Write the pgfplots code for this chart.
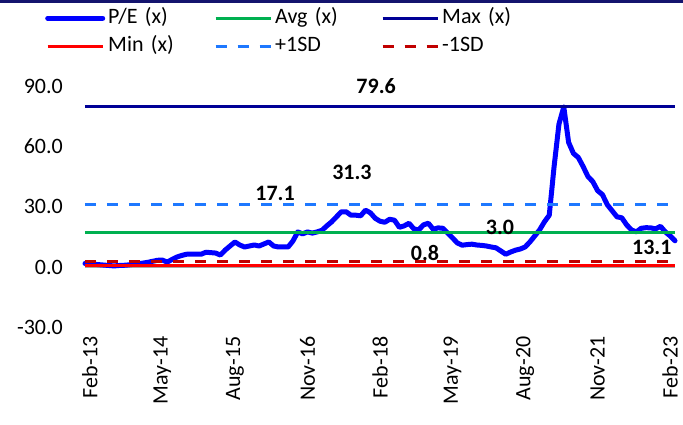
\documentclass[border=0pt]{standalone}
\usepackage{fontspec}
\setmainfont{Carlito}
\usepackage{pgfplots}
\pgfplotsset{compat=1.18}

\definecolor{peblue}{RGB}{0,0,255}
\definecolor{avggreen}{RGB}{0,176,80}
\definecolor{maxnavy}{RGB}{0,0,150}
\definecolor{minred}{RGB}{255,0,0}
\definecolor{sdplus}{RGB}{30,120,255}
\definecolor{sdminus}{RGB}{192,0,0}
\definecolor{topnavy}{RGB}{20,20,110}

\newcommand{\chartfont}{\fontsize{22}{26}\selectfont}

% month index: 0 = Jan-13, 1 = Feb-13, ..., 122 = Mar-23
\begin{document}
\begin{tikzpicture}
\path[use as bounding box] (-85pt,-97.5pt) rectangle (598pt,327.5pt);
\draw[topnavy, line width=3pt] (-85pt,325.5pt) -- (598pt,325.5pt);
\begin{axis}[
  at={(0,0)}, anchor=south west,
  scale only axis, width=590pt, height=241.5pt,
  xmin=0, xmax=122, ymin=-30, ymax=90,
  axis line style={draw=none}, major tick style={draw=none},
  xtick={1,16,...,121},
  xticklabels={Feb-13,May-14,Aug-15,Nov-16,Feb-18,May-19,Aug-20,Nov-21,Feb-23},
  xticklabel style={rotate=90, anchor=east, inner sep=0pt, xshift=-9pt},
  ytick={-30,0,30,60,90},
  yticklabel style={anchor=east, inner sep=0pt, xshift=-22pt,
    /pgf/number format/.cd, fixed, fixed zerofill, precision=1},
  /pgf/number format/assume math mode=true,
  tick label style={font=\chartfont},
  clip=false,
  legend columns=3,
  legend cell align=left,
  legend image code/.code={\draw[#1] (0pt,0pt) -- (55pt,0pt);},
  legend style={at={(axis description cs:-0.0678,1.325)}, anchor=north west,
    draw=none, fill=none, inner sep=0pt, font=\chartfont,
    nodes={inner sep=0pt, text height=16pt, text depth=5pt, text width=106pt, align=left},
    row sep=7pt,
    /tikz/every odd column/.append style={column sep=3pt}},
]
\draw[gray!70, line width=1pt] (axis cs:0,0) -- (axis cs:122,0);
\addplot[peblue, line width=5pt, line join=round, line cap=round] coordinates {
(0,1.8) (1,1.6) (2,1.4) (3,1.2) (4,1.0) (5,0.8) (6,0.6) (7,0.8) (8,0.9) (9,1.1)
(10,1.4) (11,1.7) (12,2.0) (13,2.4) (14,2.9) (15,3.4) (16,3.5) (17,2.5) (18,3.8) (19,5.0)
(20,5.8) (21,6.4) (22,6.4) (23,6.5) (24,6.4) (25,7.4) (26,7.2) (27,7.0) (28,6.0) (29,8.5)
(30,10.5) (31,12.5) (32,11.0) (33,10.0) (34,10.5) (35,11.0) (36,10.5) (37,11.5) (38,12.5) (39,10.5)
(40,10.0) (41,10.0) (42,10.0) (43,13.0) (44,17.5) (45,16.5) (46,17.5) (47,16.9) (48,17.5) (49,18.3)
(50,20.5) (51,22.5) (52,25.0) (53,27.5) (54,27.5) (55,25.8) (56,25.8) (57,25.5) (58,28.3) (59,27.0)
(60,24.3) (61,22.8) (62,22.3) (63,23.8) (64,23.3) (65,19.8) (66,20.5) (67,21.8) (68,19.0) (69,18.5)
(70,21.0) (71,21.8) (72,18.8) (73,19.5) (74,19.3) (75,16.9) (76,14.5) (77,12.0) (78,10.9) (79,11.2)
(80,11.4) (81,11.0) (82,10.8) (83,10.5) (84,10.0) (85,9.6) (86,8.0) (87,6.4) (88,7.5) (89,8.4)
(90,9.0) (91,10.0) (92,12.5) (93,15.5) (94,18.5) (95,22.5) (96,25.8) (97,50.0) (98,71.0) (99,79.6)
(100,62.0) (101,56.5) (102,54.5) (103,50.0) (104,45.0) (105,42.5) (106,38.0) (107,36.0) (108,31.0) (109,28.0)
(110,25.0) (111,24.5) (112,21.0) (113,18.5) (114,17.5) (115,19.3) (116,19.6) (117,19.5) (118,19.0) (119,20.3)
(120,17.5) (121,15.5) (122,13.1)};
\addlegendentry{P/E (x)}
\addplot[avggreen, line width=3pt] coordinates {(0,17.1) (122,17.1)};
\addlegendentry{Avg (x)}
\addplot[maxnavy, line width=3pt] coordinates {(0,79.6) (122,79.6)};
\addlegendentry{Max (x)}
\addplot[minred, line width=3pt] coordinates {(0,0.8) (122,0.8)};
\addlegendentry{Min (x)}
\addplot[sdplus, line width=3pt, dash pattern=on 11pt off 11pt] coordinates {(0,31.3) (122,31.3)};
\addlegendentry{+1SD}
\addplot[sdminus, line width=3pt, dash pattern=on 11pt off 11pt] coordinates {(0,3.0) (122,3.0)};
\addlegendentry{-1SD}
\begin{scope}[every node/.style={font=\chartfont\bfseries, inner sep=0pt}]
\node at (axis cs:60.2,90.2) {79.6};
\node at (axis cs:55.2,47.1) {31.3};
\node at (axis cs:39.3,36.7) {17.1};
\node at (axis cs:85.8,19.8) {3.0};
\node at (axis cs:70.3,6.9) {0.8};
\node at (axis cs:117.2,9.9) {13.1};
\end{scope}
\end{axis}
\end{tikzpicture}
\end{document}
